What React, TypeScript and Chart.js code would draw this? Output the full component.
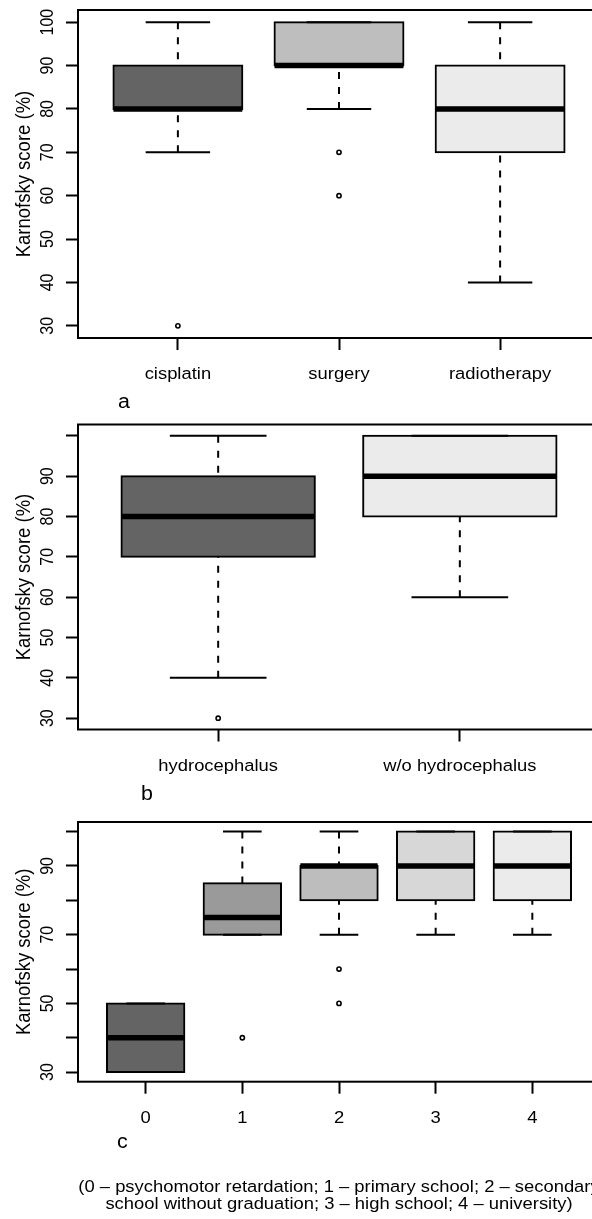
import React, { useEffect, useRef } from "react";
import { Chart, registerables } from "chart.js";

Chart.register(...registerables);

// ---------------- data ----------------
const treatmentCategories = ["cisplatin", "surgery", "radiotherapy"];
const treatmentLow = [70, 80, 40];
const treatmentQ1 = [80, 90, 70];
const treatmentMedian = [80, 90, 80];
const treatmentQ3 = [90, 100, 90];
const treatmentHigh = [100, 100, 100];
const treatmentOutliers = [[30], [70, 60], []];
const treatmentColors = ["#646464", "#bebebe", "#ebebeb"];

const hydroCategories = ["hydrocephalus", "w/o hydrocephalus"];
const hydroLow = [40, 60];
const hydroQ1 = [70, 80];
const hydroMedian = [80, 90];
const hydroQ3 = [90, 100];
const hydroHigh = [100, 100];
const hydroOutliers = [[30], []];
const hydroColors = ["#646464", "#ebebeb"];

const eduCategories = ["0", "1", "2", "3", "4"];
const eduLow = [30, 70, 70, 70, 70];
const eduQ1 = [30, 70, 80, 80, 80];
const eduMedian = [40, 75, 90, 90, 90];
const eduQ3 = [50, 85, 90, 100, 100];
const eduHigh = [50, 100, 100, 100, 100];
const eduOutliers = [[], [40], [60, 50], [], []];
const eduColors = ["#646464", "#9a9a9a", "#bdbdbd", "#d7d7d7", "#ebebeb"];

const yTickValues = [30, 40, 50, 60, 70, 80, 90, 100];
const treatmentYLabels = ["30", "40", "50", "60", "70", "80", "90", "100"];
const hydroYLabels = ["30", "40", "50", "60", "70", "80", "90", ""];
const eduYLabels = ["30", "", "50", "", "70", "", "90", ""];

const yTitle = "Karnofsky score (%)";
const eduNote = [
  "(0 \u2013 psychomotor retardation; 1 \u2013 primary school; 2 \u2013 secondary",
  "school without graduation; 3 \u2013 high school; 4 \u2013 university)",
];

// ---------------- layout / style ----------------
const FONT = '"Liberation Sans", Arial, Helvetica, sans-serif';
const CANVAS_W = 640;
const PLOT_LEFT = 78;
const PLOT_RIGHT = 600;
const Y_MIN = 27.2;
const Y_MAX = 102.8;

type Spec = {
  categories: string[];
  low: number[];
  q1: number[];
  median: number[];
  q3: number[];
  high: number[];
  outliers: number[][];
  colors: string[];
  yLabels: string[];
  top: number;
  height: number;
  plotTop: number;
  plotBottom: number;
  letter: string;
  letterX: number;
  letterY: number;
  note?: string[];
};

const specs: Spec[] = [
  {
    categories: treatmentCategories,
    low: treatmentLow,
    q1: treatmentQ1,
    median: treatmentMedian,
    q3: treatmentQ3,
    high: treatmentHigh,
    outliers: treatmentOutliers,
    colors: treatmentColors,
    yLabels: treatmentYLabels,
    top: 0,
    height: 415,
    plotTop: 10,
    plotBottom: 338,
    letter: "a",
    letterX: 118,
    letterY: 408,
  },
  {
    categories: hydroCategories,
    low: hydroLow,
    q1: hydroQ1,
    median: hydroMedian,
    q3: hydroQ3,
    high: hydroHigh,
    outliers: hydroOutliers,
    colors: hydroColors,
    yLabels: hydroYLabels,
    top: 415,
    height: 395,
    plotTop: 9.5,
    plotBottom: 314.5,
    letter: "b",
    letterX: 141,
    letterY: 385,
  },
  {
    categories: eduCategories,
    low: eduLow,
    q1: eduQ1,
    median: eduMedian,
    q3: eduQ3,
    high: eduHigh,
    outliers: eduOutliers,
    colors: eduColors,
    yLabels: eduYLabels,
    top: 810,
    height: 409,
    plotTop: 12,
    plotBottom: 271.7,
    letter: "c",
    letterX: 117,
    letterY: 338,
    note: eduNote,
  },
];

function drawText(
  ctx: CanvasRenderingContext2D,
  text: string,
  x: number,
  y: number,
  size: number,
  align: CanvasTextAlign,
  rotate: boolean,
  sLen: number,
  sHeight: number
) {
  ctx.save();
  ctx.translate(x, y);
  if (rotate) ctx.rotate(-Math.PI / 2);
  ctx.scale(sLen, sHeight);
  ctx.font = `${size}px ${FONT}`;
  ctx.textAlign = align;
  ctx.textBaseline = "alphabetic";
  ctx.fillStyle = "#000";
  ctx.fillText(text, 0, 0);
  ctx.restore();
}

function buildConfig(spec: Spec): any {
  const n = spec.categories.length;
  const pos = spec.categories.map((_, i) => i + 1);
  const half = 0.4;
  const capHalf = 0.2;
  const xMin = 0.5 - 0.04 * n;
  const xMax = n + 0.5 + 0.04 * n;

  const outlierData: any[] = [];
  spec.outliers.forEach((arr, i) => arr.forEach((v) => outlierData.push({ x: pos[i], y: v })));

  const datasets: any[] = [
    {
      type: "line",
      data: outlierData,
      showLine: false,
      pointRadius: 2.1,
      pointBorderWidth: 1.6,
      pointBackgroundColor: "#ffffff",
      pointBorderColor: "#000000",
      order: 0,
    },
    {
      type: "line",
      data: pos.flatMap((p, i) => [
        { x: p - half, y: spec.median[i] },
        { x: p + half, y: spec.median[i] },
        { x: p, y: null },
      ]),
      borderColor: "#000000",
      borderWidth: 5.5,
      borderCapStyle: "butt",
      pointRadius: 0,
      spanGaps: false,
      order: 1,
    },
    {
      type: "line",
      data: pos.flatMap((p, i) => [
        { x: p - capHalf, y: spec.high[i] },
        { x: p + capHalf, y: spec.high[i] },
        { x: p, y: null },
        { x: p - capHalf, y: spec.low[i] },
        { x: p + capHalf, y: spec.low[i] },
        { x: p, y: null },
      ]),
      borderColor: "#000000",
      borderWidth: 2,
      borderCapStyle: "butt",
      pointRadius: 0,
      spanGaps: false,
      order: 2,
    },
    {
      type: "line",
      data: pos.flatMap((p, i) => [
        { x: p, y: spec.high[i] },
        { x: p, y: spec.q3[i] },
        { x: p, y: null },
        { x: p, y: spec.low[i] },
        { x: p, y: spec.q1[i] },
        { x: p, y: null },
      ]),
      borderColor: "#000000",
      borderWidth: 2,
      borderDash: [7, 8],
      borderCapStyle: "butt",
      pointRadius: 0,
      spanGaps: false,
      order: 3,
    },
    {
      type: "bar",
      data: pos.map((p, i) => ({ x: p, y: [spec.q1[i], spec.q3[i]] })),
      backgroundColor: spec.colors,
      borderColor: "#000000",
      borderWidth: 2,
      borderSkipped: false,
      inflateAmount: 1,
      barPercentage: 0.8,
      categoryPercentage: 1,
      order: 4,
    },
  ];

  const framePlugin = {
    id: "rframe",
    afterDatasetsDraw(chart: any) {
      const { ctx, chartArea } = chart;
      ctx.save();
      ctx.strokeStyle = "#000";
      ctx.lineWidth = 2;
      ctx.strokeRect(chartArea.left, chartArea.top, chartArea.right - chartArea.left, chartArea.bottom - chartArea.top);
      ctx.restore();
    },
  };

  const textPlugin = {
    id: "rtext",
    afterDraw(chart: any) {
      const { ctx, chartArea } = chart;
      const ys = chart.scales.y;
      const xs = chart.scales.x;
      ys.ticks.forEach((t: any) => {
        if (!t.label) return;
        drawText(ctx, String(t.label), 53, ys.getPixelForValue(t.value), 16, "center", true, 1, 1.15);
      });
      xs.ticks.forEach((t: any) => {
        if (!t.label) return;
        drawText(ctx, String(t.label), xs.getPixelForValue(t.value), chartArea.bottom + 41, 17.2, "center", false, 1.07, 1);
      });
      drawText(ctx, yTitle, 30, (chartArea.top + chartArea.bottom) / 2, 18.5, "center", true, 1, 1.1);
      drawText(ctx, spec.letter, spec.letterX, spec.letterY, 20, "left", false, 1.07, 1);
      if (spec.note) {
        const cx = (chartArea.left + chartArea.right) / 2;
        drawText(ctx, spec.note[0], cx, chartArea.bottom + 110, 17.2, "center", false, 1.07, 1);
        drawText(ctx, spec.note[1], cx, chartArea.bottom + 127, 17.2, "center", false, 1.07, 1);
      }
    },
  };

  return {
    type: "bar",
    data: { datasets },
    options: {
      animation: false,
      responsive: false,
      devicePixelRatio: 1,
      layout: {
        padding: { left: 0, top: spec.plotTop, right: CANVAS_W - PLOT_RIGHT, bottom: 0 },
      },
      plugins: { legend: { display: false }, tooltip: { enabled: false } },
      scales: {
        x: {
          type: "linear",
          min: xMin,
          max: xMax,
          offset: false,
          afterBuildTicks: (axis: any) => {
            axis.ticks = pos.map((v) => ({ value: v }));
          },
          afterFit: (axis: any) => {
            axis.height = spec.height - spec.plotBottom;
          },
          ticks: {
            display: false,
            callback: (_v: any, i: number) => spec.categories[i],
          },
          grid: {
            display: true,
            offset: false,
            drawOnChartArea: false,
            drawTicks: true,
            tickLength: 12,
            tickWidth: 2,
            tickColor: "#000",
          },
          border: { display: false },
        },
        y: {
          type: "linear",
          min: Y_MIN,
          max: Y_MAX,
          afterBuildTicks: (axis: any) => {
            axis.ticks = yTickValues.map((v) => ({ value: v }));
          },
          afterFit: (axis: any) => {
            axis.width = PLOT_LEFT;
          },
          ticks: {
            display: false,
            callback: (_v: any, i: number) => spec.yLabels[i],
          },
          grid: {
            display: true,
            drawOnChartArea: false,
            drawTicks: true,
            tickLength: 12,
            tickWidth: 2,
            tickColor: "#000",
          },
          border: { display: false },
        },
      },
    },
    plugins: [framePlugin, textPlugin],
  };
}

function Panel({ spec }: { spec: Spec }) {
  const ref = useRef<HTMLCanvasElement>(null);
  useEffect(() => {
    if (!ref.current) return;
    const chart = new Chart(ref.current, buildConfig(spec));
    return () => chart.destroy();
  }, [spec]);
  return (
    <canvas
      ref={ref}
      width={CANVAS_W}
      height={spec.height}
      style={{ position: "absolute", left: 0, top: spec.top, width: CANVAS_W, height: spec.height }}
    />
  );
}

export default function App() {
  return (
    <div
      style={{
        position: "absolute",
        left: 0,
        top: 0,
        width: 592,
        height: 1219,
        overflow: "hidden",
        background: "#fff",
      }}
    >
      {specs.map((s, i) => (
        <Panel key={i} spec={s} />
      ))}
    </div>
  );
}
